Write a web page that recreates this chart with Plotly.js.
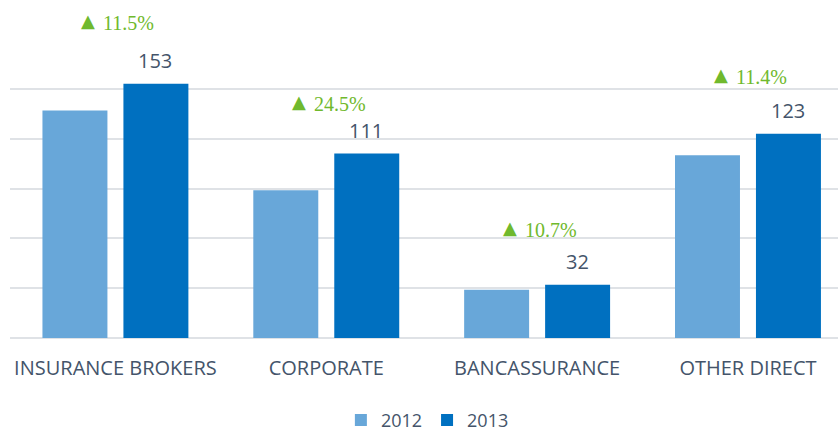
<!DOCTYPE html>
<html>
<head>
<meta charset="utf-8">
<script src="https://cdn.plot.ly/plotly-3.0.1.min.js"></script>
<style>html,body{margin:0;padding:0;background:#fff;}#chart{width:838px;height:439px;}</style>
</head>
<body>
<div id="chart"></div>
<script>
var categories = ["INSURANCE BROKERS", "CORPORATE", "BANCASSURANCE", "OTHER DIRECT"];
var values2012 = [137, 89, 29, 110];
var values2013 = [153, 111, 32, 123];
var growthLabels = ["11.5%", "24.5%", "10.7%", "11.4%"];
var growthShift = [61, 50, 55, 57];

var labelColor = "#44546a";
var green = "#70b92d";
var traces = [
  {type: "bar", name: "2012", x: categories, y: values2012, marker: {color: "#68a7d9"}},
  {type: "bar", name: "2013", x: categories, y: values2013, marker: {color: "#0070c0"}}
];

var annotations = [];
categories.forEach(function (c, i) {
  annotations.push({
    x: c, y: values2013[i], xref: "x", yref: "y", text: String(values2013[i]),
    showarrow: false, xshift: 40, yshift: 23, yanchor: "middle",
    font: {family: "Open Sans", size: 20, color: labelColor}
  });
  annotations.push({
    x: c, y: values2013[i], xref: "x", yref: "y", text: "▲",
    showarrow: false, xshift: -18, yshift: growthShift[i] + 2, xanchor: "right", yanchor: "middle",
    font: {family: "DejaVu Sans", size: 18, color: green}
  });
  annotations.push({
    x: c, y: values2013[i], xref: "x", yref: "y", text: growthLabels[i],
    showarrow: false, xshift: -14, yshift: growthShift[i], xanchor: "left", yanchor: "middle",
    font: {family: "Liberation Serif", size: 20, color: green}
  });
});

var layout = {
  width: 838, height: 439,
  margin: {l: 10, r: 0, t: 38, b: 101},
  paper_bgcolor: "#fff", plot_bgcolor: "#fff",
  barmode: "group", bargap: 0.232, bargroupgap: 0.1975,
  xaxis: {
    type: "category", range: [-0.5, 3.427], showgrid: false, zeroline: false,
    showline: false, ticks: "", ticklabelstandoff: 16,
    tickfont: {family: "Open Sans", size: 20, color: labelColor}
  },
  yaxis: {
    range: [0, 180.6], dtick: 30, showticklabels: false, showgrid: true,
    gridcolor: "#dfe2e6", gridwidth: 2, zeroline: true, zerolinecolor: "#dfe2e6", zerolinewidth: 2
  },
  showlegend: true,
  legend: {
    orientation: "h", x: 0.51, xanchor: "center", xref: "container",
    y: 0.085, yanchor: "top", yref: "container",
    font: {family: "Open Sans", size: 18, color: labelColor}
  },
  annotations: annotations
};

Plotly.newPlot("chart", traces, layout, {displayModeBar: false, staticPlot: true});
</script>
</body>
</html>
